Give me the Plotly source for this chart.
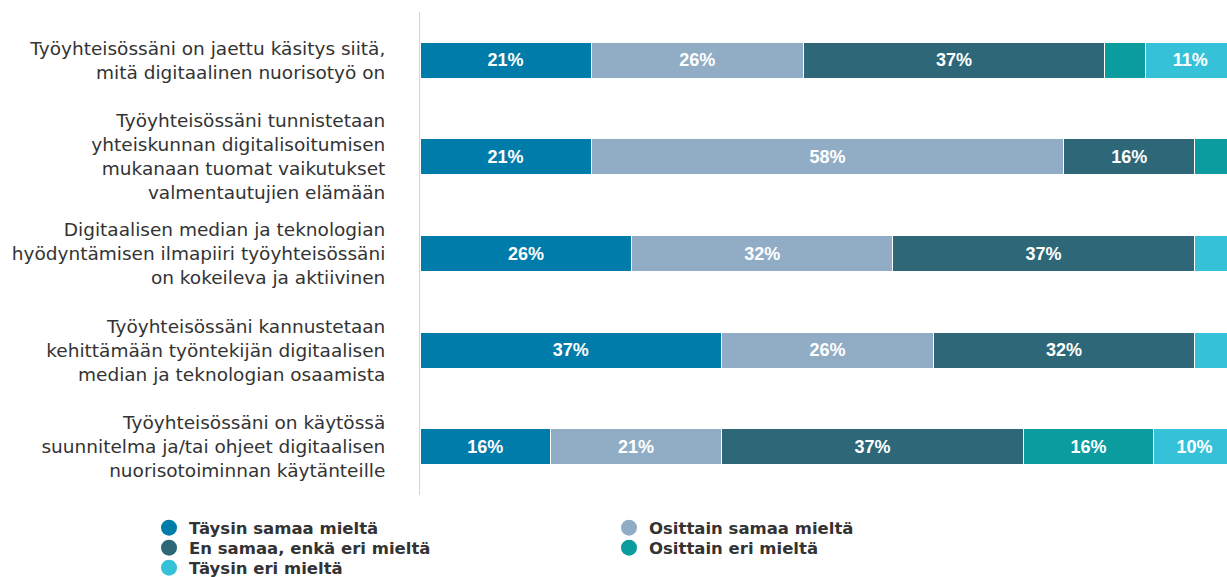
import plotly.graph_objects as go

categories = [
    "Työyhteisössäni on jaettu käsitys siitä,<br>mitä digitaalinen nuorisotyö on",
    "Työyhteisössäni tunnistetaan<br>yhteiskunnan digitalisoitumisen<br>mukanaan tuomat vaikutukset<br>valmentautujien elämään",
    "Digitaalisen median ja teknologian<br>hyödyntämisen ilmapiiri työyhteisössäni<br>on kokeileva ja aktiivinen",
    "Työyhteisössäni kannustetaan<br>kehittämään työntekijän digitaalisen<br>median ja teknologian osaamista",
    "Työyhteisössäni on käytössä<br>suunnitelma ja/tai ohjeet digitaalisen<br>nuorisotoiminnan käytänteille",
]

series_names = [
    "Täysin samaa mieltä",
    "Osittain samaa mieltä",
    "En samaa, enkä eri mieltä",
    "Osittain eri mieltä",
    "Täysin eri mieltä",
]

taysin_samaa = [21, 21, 26, 37, 16]
osittain_samaa = [26, 58, 32, 26, 21]
en_samaa_enka_eri = [37, 16, 37, 32, 37]
osittain_eri = [5, 5, 0, 0, 16]
taysin_eri = [11, 0, 5, 5, 10]

series_values = [taysin_samaa, osittain_samaa, en_samaa_enka_eri, osittain_eri, taysin_eri]
colors = ["#007caa", "#91adc5", "#2d6778", "#0a9c9e", "#35c2d9"]
legend_rows = ["legend", "legend", "legend2", "legend2", "legend3"]

fig = go.Figure()
for name, vals, col in zip(series_names, series_values, colors):
    fig.add_trace(go.Bar(
        y=categories, x=vals, orientation="h", name=name,
        marker=dict(color=col, line=dict(color="white", width=1)),
        text=[f"{v}%" if v >= 10 else "" for v in vals],
        textposition="inside", insidetextanchor="middle", textangle=0,
        textfont=dict(color="white", size=18, family="Liberation Sans", weight="bold"),
        showlegend=False, legendgroup=name, hoverinfo="x+name",
    ))
for name, col, lg in zip(series_names, colors, legend_rows):
    fig.add_trace(go.Scatter(
        x=[None], y=[None], mode="markers", name=name, legendgroup=name,
        marker=dict(symbol="circle", size=18, color=col),
        showlegend=True, legend=lg,
    ))

legend_font = dict(size=16.5, color="#333333", family="DejaVu Sans", weight="bold")
legend_common = dict(orientation="h", x=-0.3358, xanchor="left", yanchor="middle",
                     entrywidth=415, entrywidthmode="pixels", font=legend_font,
                     itemwidth=30, traceorder="normal", bgcolor="rgba(0,0,0,0)")

fig.update_layout(
    width=1227, height=577,
    margin=dict(l=420, r=0, t=12, b=82, autoexpand=False),
    barmode="stack", bargap=0.628,
    plot_bgcolor="white", paper_bgcolor="white",
    font=dict(family="Liberation Sans", color="#333333"),
    xaxis=dict(range=[0, 99], showgrid=False, zeroline=False,
               showticklabels=False, showline=False, fixedrange=True),
    yaxis=dict(autorange="reversed", showgrid=False, zeroline=False,
               showline=True, linecolor="#ccd6eb", linewidth=1,
               ticks="", ticklabelstandoff=30,
               tickfont=dict(size=18.5, color="#333333", family="DejaVu Sans")),
    legend=dict(y=-0.0683, **legend_common),
    legend2=dict(y=-0.1097, **legend_common),
    legend3=dict(y=-0.1511, **legend_common),
)

fig.write_html("out.html")
